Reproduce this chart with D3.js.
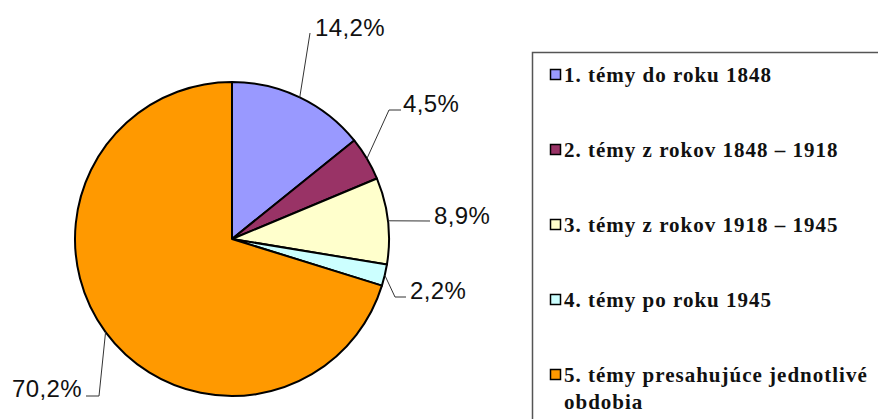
<!DOCTYPE html>
<html>
<head>
<meta charset="utf-8">
<script src="https://cdn.jsdelivr.net/npm/d3@7"></script>
<style>
  body { margin: 0; background: #fff; }
  svg { display: block; }
</style>
</head>
<body>
<svg></svg>
<script>
var width = 878, height = 419;

// data
var categories = [
  "1. témy do roku 1848",
  "2. témy z rokov 1848 – 1918",
  "3. témy z rokov 1918 – 1945",
  "4. témy po roku 1945",
  "5. témy presahujúce jednotlivé obdobia"
];
var values = [14.2, 4.5, 8.9, 2.2, 70.2];
var valueLabels = ["14,2%", "4,5%", "8,9%", "2,2%", "70,2%"];
var colors = ["#9999ff", "#993366", "#ffffcc", "#ccffff", "#ff9900"];

// leader line elbows / label anchors (layout only)
var leaders = [
  {elbow: [310, 33], end: [310, 33], tx: 315, ty: 27, anchor: "start"},
  {elbow: [389, 110], end: [401, 110], tx: 403, ty: 103, anchor: "start"},
  {elbow: [430, 221], end: [430, 221], tx: 434, ty: 215, anchor: "start"},
  {elbow: [395, 297], end: [406, 297], tx: 410, ty: 290, anchor: "start"},
  {elbow: [99, 396], end: [86, 396], tx: 82, ty: 388, anchor: "end"}
];

var cx = 232, cy = 239, radius = 157;

var svg = d3.select("svg")
    .attr("width", width)
    .attr("height", height);

var pie = d3.pie().sort(null).value(function(d) { return d; });
var arc = d3.arc().innerRadius(0).outerRadius(radius);
var arcs = pie(values);

var g = svg.append("g")
    .attr("transform", "translate(" + cx + "," + cy + ")");

g.selectAll("path.slice")
    .data(arcs)
  .enter().append("path")
    .attr("class", "slice")
    .attr("d", arc)
    .style("fill", function(d, i) { return colors[i]; })
    .style("stroke", "#000")
    .style("stroke-width", 2)
    .style("stroke-linejoin", "round");

// leader lines
svg.selectAll("polyline.leader")
    .data(arcs)
  .enter().append("polyline")
    .attr("class", "leader")
    .attr("points", function(d, i) {
      var a = (d.startAngle + d.endAngle) / 2;
      var px = cx + radius * Math.sin(a), py = cy - radius * Math.cos(a);
      var l = leaders[i];
      return [[px, py], l.elbow, l.end].map(function(p) { return p.join(","); }).join(" ");
    })
    .style("fill", "none")
    .style("stroke", "#333")
    .style("stroke-width", 1);

svg.selectAll("text.pct")
    .data(arcs)
  .enter().append("text")
    .attr("class", "pct")
    .attr("x", function(d, i) { return leaders[i].tx; })
    .attr("y", function(d, i) { return leaders[i].ty; })
    .attr("dy", "0.36em")
    .attr("text-anchor", function(d, i) { return leaders[i].anchor; })
    .style("font-family", "'Liberation Sans', Arial, sans-serif")
    .style("font-size", "24px")
    .style("letter-spacing", "0.4px")
    .style("fill", "#111")
    .text(function(d, i) { return valueLabels[i]; });

// legend
var legend = svg.append("g");

legend.append("rect")
    .attr("x", 532.5)
    .attr("y", 52.5)
    .attr("width", 400)
    .attr("height", 400)
    .style("fill", "#fff")
    .style("stroke", "#555")
    .style("stroke-width", 1.5);

var rowY = d3.scalePoint().domain(categories).range([75, 375]);

var item = legend.selectAll("g.item")
    .data(categories)
  .enter().append("g")
    .attr("class", "item")
    .attr("transform", function(d) { return "translate(0," + rowY(d) + ")"; });

item.append("rect")
    .attr("x", 550.5)
    .attr("y", -5.5)
    .attr("width", 10)
    .attr("height", 10)
    .style("fill", function(d, i) { return colors[i]; })
    .style("stroke", "#000")
    .style("stroke-width", 1.5);

var txt = item.append("text")
    .attr("x", 564)
    .attr("y", 0)
    .attr("dy", "0.33em")
    .style("font-family", "'Liberation Serif', 'Times New Roman', serif")
    .style("font-weight", "bold")
    .style("font-size", "21px")
    .style("letter-spacing", "1px")
    .style("fill", "#111");

txt.each(function(d, i) {
  var t = d3.select(this);
  if (i === 4) {
    t.append("tspan").attr("x", 564).text("5. témy presahujúce jednotlivé");
    t.append("tspan").attr("x", 564).attr("dy", "27").text("obdobia");
  } else {
    t.text(d);
  }
});
</script>
</body>
</html>
